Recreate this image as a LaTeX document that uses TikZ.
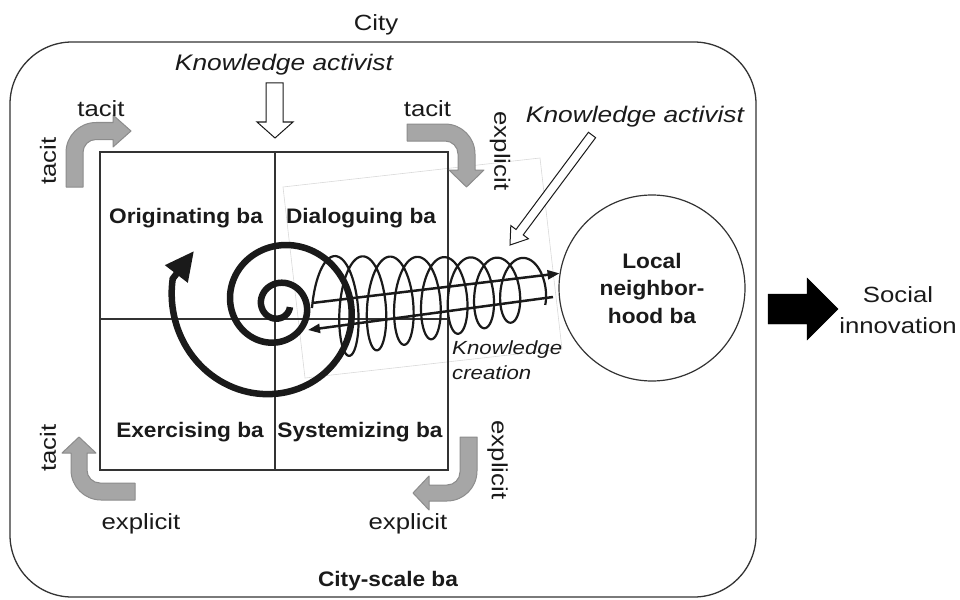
\documentclass[tikz,border=0pt]{standalone}
\usepackage{fontspec}
\setmainfont{Liberation Sans}
\newfontfamily\labfont{Liberation Sans}[FakeStretch=1.17]
\newfontfamily\bafont{Liberation Sans}[FakeStretch=1.08]
\usetikzlibrary{arrows.meta}
\definecolor{ink}{HTML}{1A1A1A}
\definecolor{frame}{HTML}{333333}
\definecolor{arrowgray}{HTML}{A6A6A6}
\definecolor{arrowedge}{HTML}{8C8C8C}
\definecolor{faintline}{HTML}{D9D9D9}

\begin{document}
\begin{tikzpicture}[x=1pt,y=-1pt,
  lbl/.style={font=\labfont\fontsize{22}{26}\selectfont, inner sep=0pt, text=ink, anchor=base},
  rlbl/.style={font=\labfont\fontsize{22}{26}\selectfont, inner sep=0pt, text=ink, anchor=center},
  actlbl/.style={font=\labfont\itshape\fontsize{22.5}{26}\selectfont, inner sep=0pt, text=ink, anchor=base},
  balbl/.style={font=\bafont\bfseries\fontsize{21}{27.5}\selectfont, inner sep=0pt, text=ink, anchor=base},
  grayarrow/.style={fill=arrowgray, draw=arrowedge, line width=1pt, line join=round},
  hollowarrow/.style={fill=white, draw=ink, line width=1pt, line join=miter},
  gridline/.style={draw=frame, line width=1.3pt},
  springline/.style={draw=ink, line width=2.2pt, line join=round},
  spiralline/.style={draw=ink, line width=6.5pt},
  flow/.style={draw=ink, line width=2.5pt, -{Triangle[length=12pt,width=9pt]}},
]
\useasboundingbox (0,0) rectangle (960,599);

% city frame and its labels
\draw[draw=frame, line width=1.3pt, rounded corners=62pt] (10,42) rectangle (756,597);
\node[lbl] (city) at (376,31) {City};
\node[balbl] (cityba) at (388,586) {City-scale ba};

% outline of the spiral picture
\draw[faintline, line width=0.6pt] (283,187) -- (540,158) -- (562,349) -- (305,378) -- cycle;

% the four ba
\draw[gridline] (100,152) rectangle (448,470);
\draw[gridline, line width=1.1pt] (275,152) -- (275,470);
\draw[gridline, line width=1.1pt] (100,319) -- (448,319);
\node[balbl] (orig) at (186,223) {Originating ba};
\node[balbl] (dial) at (361,223) {Dialoguing ba};
\node[balbl] (exer) at (190,437) {Exercising ba};
\node[balbl] (syst) at (360,437) {Systemizing ba};

% conversion arrows between tacit and explicit knowledge
\draw[grayarrow] (66,187) [rounded corners=30pt] -- (66,122.5) [sharp corners] -- (113,122.5) -- (113,115) -- (131,131) -- (113,147) -- (113,139.5) [rounded corners=13pt] -- (83,139.5) [sharp corners] -- (83,187) -- cycle;
\draw[grayarrow] (407,124) [rounded corners=30pt] -- (475,124) [sharp corners] -- (475,170) -- (484,170) -- (466.5,187) -- (449,170) -- (458,170) [rounded corners=13pt] -- (458,141) [sharp corners] -- (407,141) -- cycle;
\draw[grayarrow] (135,500) [rounded corners=30pt] -- (71,500) [sharp corners] -- (71,453) -- (62,453) -- (79,437) -- (96,453) -- (87,453) [rounded corners=13pt] -- (87,483) [sharp corners] -- (135,483) -- cycle;
\draw[grayarrow] (460,437) -- (477,437) [rounded corners=30pt] -- (477,501) [sharp corners] -- (429,501) -- (429,510) -- (413,493) -- (429,476) -- (429,485) [rounded corners=13pt] -- (460,485) [sharp corners] -- cycle;

\node[lbl] (tacitTL) at (101,117) {tacit};
\node[rlbl, rotate=90] (tacitL) at (48,161) {tacit};
\node[lbl] (tacitTR) at (427.5,117) {tacit};
\node[rlbl, rotate=-90] (explR) at (500,151) {explicit};
\node[rlbl, rotate=90] (tacitBL) at (48,448) {tacit};
\node[lbl] (explBL) at (141,529) {explicit};
\node[lbl] (explBM) at (408,529) {explicit};
\node[rlbl, rotate=-90] (explBR) at (497.5,460) {explicit};

% knowledge activists
\node[actlbl] (actTop) at (284,71) {Knowledge activist};
\draw[hollowarrow] (266,83) -- (283,83) -- (283,122) -- (293,122) -- (275,138) -- (257,122) -- (266,122) -- cycle;
\node[actlbl] (actRight) at (635,123) {Knowledge activist};
\draw[hollowarrow] (588.4,132.3) -- (516,229.5) -- (510.8,225.6) -- (510,245) -- (528.4,238.8) -- (523.2,234.9) -- (595.6,137.7) -- cycle;

% local neighborhood ba
\node[circle, draw=frame, line width=1.2pt, fill=white, minimum size=186pt, inner sep=0pt, align=center,
      font=\bafont\bfseries\fontsize{21}{27.5}\selectfont, text=ink] (nbh) at (652,288) {Local\\neighbor-\\hood ba};

% knowledge creation spring
\draw[springline] plot[domain=0.0:7.6, samples=600]
  ({328+28*\x-0.15*\x*\x-16*cos(360*\x)}, {308-20*\x/7.6-(52-22*\x/7.6)*sin(360*\x)});
\node[font=\labfont\itshape\fontsize{19}{25}\selectfont, inner sep=0pt, text=ink, anchor=west, align=left] (kc) at (452,360.5) {Knowledge\\creation};

% growing spiral
\coordinate (spiralTip) at (194,251);
\draw[spiralline, -{Triangle[length=29pt,width=27pt]}] plot[domain=10:914, samples=300]
  ({278+(12+0.008*\x+0.0001*\x*\x)*cos(\x)}, {305+(12+0.008*\x+0.0001*\x*\x)*sin(\x)}) -- (spiralTip);

% exchange between the city-scale ba and the local ba
\coordinate (outStart) at (312,303);
\coordinate (backStart) at (553,297);
\coordinate (backEnd) at (308,330);
\draw[flow] (outStart) -- (nbh.171);
\draw[flow] (backStart) -- (backEnd);

% social innovation
\draw[fill=black, draw=black] (768,294) -- (807,294) -- (807,278) -- (838,309) -- (807,340) -- (807,324) -- (768,324) -- cycle;
\node[font=\labfont\fontsize{22}{31}\selectfont, inner sep=0pt, text=ink, align=center] (social) at (898,310.5) {Social\\innovation};
\end{tikzpicture}
\end{document}
